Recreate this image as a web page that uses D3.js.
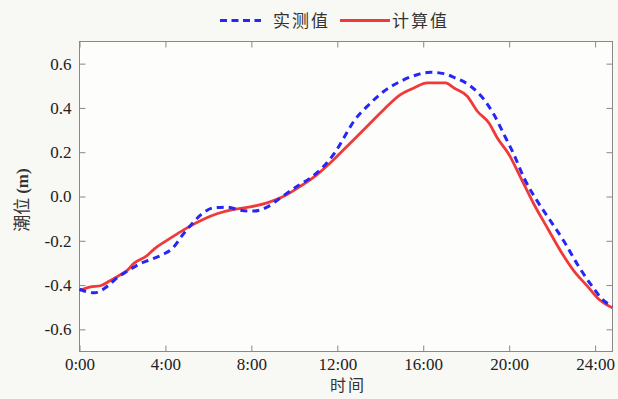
<!DOCTYPE html>
<html><head><meta charset="utf-8">
<script src="https://cdn.jsdelivr.net/npm/d3@7"></script>
<style>
html,body{margin:0;padding:0;background:#f8f8f5;}
svg{display:block;}
</style></head>
<body>
<svg id="chart" width="618" height="399"></svg>
<script>
// measured (实测值) series: hours, water level (m)
const measuredHours = [0,0.31,0.70,1.09,1.40,1.79,2.18,2.49,2.80,3.26,3.88,4.35,4.82,5.21,5.67,6.24,6.87,7.49,8.11,8.73,9.35,10.13,10.75,11.37,11.9,12.3,12.77,13.39,14.17,14.94,15.72,16.34,16.96,17.43,18.21,18.83,19.29,19.76,20.22,20.69,21.31,21.93,22.55,23.18,23.80,24.42,24.81];
const measuredValues = [-0.418,-0.43,-0.435,-0.42,-0.397,-0.364,-0.340,-0.322,-0.304,-0.287,-0.262,-0.232,-0.171,-0.126,-0.081,-0.051,-0.048,-0.062,-0.066,-0.048,-0.006,0.046,0.084,0.137,0.2,0.264,0.34,0.407,0.475,0.52,0.55,0.561,0.555,0.538,0.498,0.438,0.37,0.28,0.19,0.084,-0.021,-0.111,-0.202,-0.307,-0.397,-0.472,-0.495];
// computed (计算值) series
const computedHours = [0,0.47,1.01,1.40,1.79,2.18,2.56,3.11,3.50,3.96,4.51,4.97,5.44,5.90,6.40,7.18,7.95,8.73,9.51,10.28,11.06,11.84,12.61,13.39,14.17,14.94,15.56,16.19,17.04,17.43,18.05,18.52,19.06,19.45,19.99,20.54,21.16,21.78,22.40,23.02,23.64,24.11,24.81];
const computedValues = [-0.424,-0.409,-0.402,-0.382,-0.36,-0.337,-0.30,-0.269,-0.235,-0.205,-0.171,-0.144,-0.119,-0.097,-0.078,-0.058,-0.047,-0.029,0.001,0.046,0.099,0.167,0.242,0.317,0.393,0.46,0.49,0.513,0.513,0.49,0.453,0.385,0.332,0.264,0.19,0.084,-0.036,-0.142,-0.247,-0.337,-0.405,-0.458,-0.503];
const xTicks = [0,4,8,12,16,20,24];
const xTickLabels = ["0:00","4:00","8:00","12:00","16:00","20:00","24:00"];
const yTicks = [-0.6,-0.4,-0.2,0.0,0.2,0.4,0.6];
const seriesNames = ["实测值","计算值"];
const xLabel = "时间";
const yLabel = "潮位 (m)";

const svg = d3.select("#chart");
const L = 79.5, R = 612.5, T = 41.5, B = 351.5;
const x = d3.scaleLinear().domain([0, 24.81]).range([L, R]);
const y = d3.scaleLinear().domain([-0.7, 0.7]).range([B, T]);

const serif = "'Liberation Serif','Times New Roman',serif";
const cjk = "'Noto Sans CJK SC','Noto Sans',sans-serif";

svg.append("rect").attr("x", L).attr("y", T).attr("width", R - L).attr("height", B - T).attr("fill", "#fdfdfb");

// axes
const tl = 6;
const gx = svg.append("g").attr("transform", `translate(0,${B})`)
  .call(d3.axisBottom(x).tickValues(xTicks).tickFormat((d,i)=>xTickLabels[i]).tickSizeInner(-tl).tickSizeOuter(0).tickPadding(6));
const gxt = svg.append("g").attr("transform", `translate(0,${T})`)
  .call(d3.axisTop(x).tickValues(xTicks).tickFormat("").tickSizeInner(-tl).tickSizeOuter(0));
const gy = svg.append("g").attr("transform", `translate(${L},0)`)
  .call(d3.axisLeft(y).tickValues(yTicks).tickFormat(d3.format(".1f")).tickSizeInner(-tl).tickSizeOuter(0).tickPadding(8));
const gyr = svg.append("g").attr("transform", `translate(${R},0)`)
  .call(d3.axisRight(y).tickValues(yTicks).tickFormat("").tickSizeInner(-tl).tickSizeOuter(0));
[gx,gxt,gy,gyr].forEach(g=>{
  g.select(".domain").remove();
  g.selectAll(".tick line").attr("stroke","#888").attr("stroke-width",1);
  g.selectAll("text").attr("font-family",serif).attr("font-size",17).attr("fill","#222");
});
gy.selectAll("text").text(d => d3.format(".1f")(d).replace("−","-"));
gx.selectAll("text").attr("dy","0.71em");

svg.append("rect").attr("x", L).attr("y", T).attr("width", R - L).attr("height", B - T)
  .attr("fill","none").attr("stroke","#888").attr("stroke-width",1);

// lines
const measured = measuredHours.map((h,i)=>[h, measuredValues[i]]);
const computed = computedHours.map((h,i)=>[h, computedValues[i]]);
const line = d3.line().x(d=>x(d[0])).y(d=>y(d[1])).curve(d3.curveMonotoneX);
svg.append("path").datum(computed).attr("d", line).attr("fill","none")
  .attr("stroke","#f03a3a").attr("stroke-width",2.8).attr("stroke-linejoin","round");
svg.append("path").datum(measured).attr("d", line).attr("fill","none")
  .attr("stroke","#2626f5").attr("stroke-width",3).attr("stroke-dasharray","7,5");

// legend
const lg = svg.append("g");
lg.append("line").attr("x1",220).attr("x2",261).attr("y1",20.5).attr("y2",20.5)
  .attr("stroke","#2626f5").attr("stroke-width",3).attr("stroke-dasharray","7,4.5");
lg.append("text").attr("x",273).attr("y",27).text(seriesNames[0])
  .attr("font-family",cjk).attr("font-size",17).attr("letter-spacing",2).attr("fill","#333");
lg.append("line").attr("x1",340).attr("x2",390).attr("y1",20.5).attr("y2",20.5)
  .attr("stroke","#f03a3a").attr("stroke-width",3);
lg.append("text").attr("x",392).attr("y",27).text(seriesNames[1])
  .attr("font-family",cjk).attr("font-size",17).attr("letter-spacing",2).attr("fill","#333");

// axis titles
svg.append("text").attr("x",348).attr("y",391).attr("text-anchor","middle").text(xLabel)
  .attr("font-family",cjk).attr("font-size",16).attr("letter-spacing",2).attr("fill","#333");
const yl = svg.append("text").attr("transform","translate(28,200) rotate(-90)").attr("text-anchor","middle")
  .attr("font-size",17).attr("fill","#333");
yl.append("tspan").attr("font-family",cjk).text("潮位 ");
yl.append("tspan").attr("font-family",serif).attr("font-weight","bold").text("(m)");
</script>
</body></html>
